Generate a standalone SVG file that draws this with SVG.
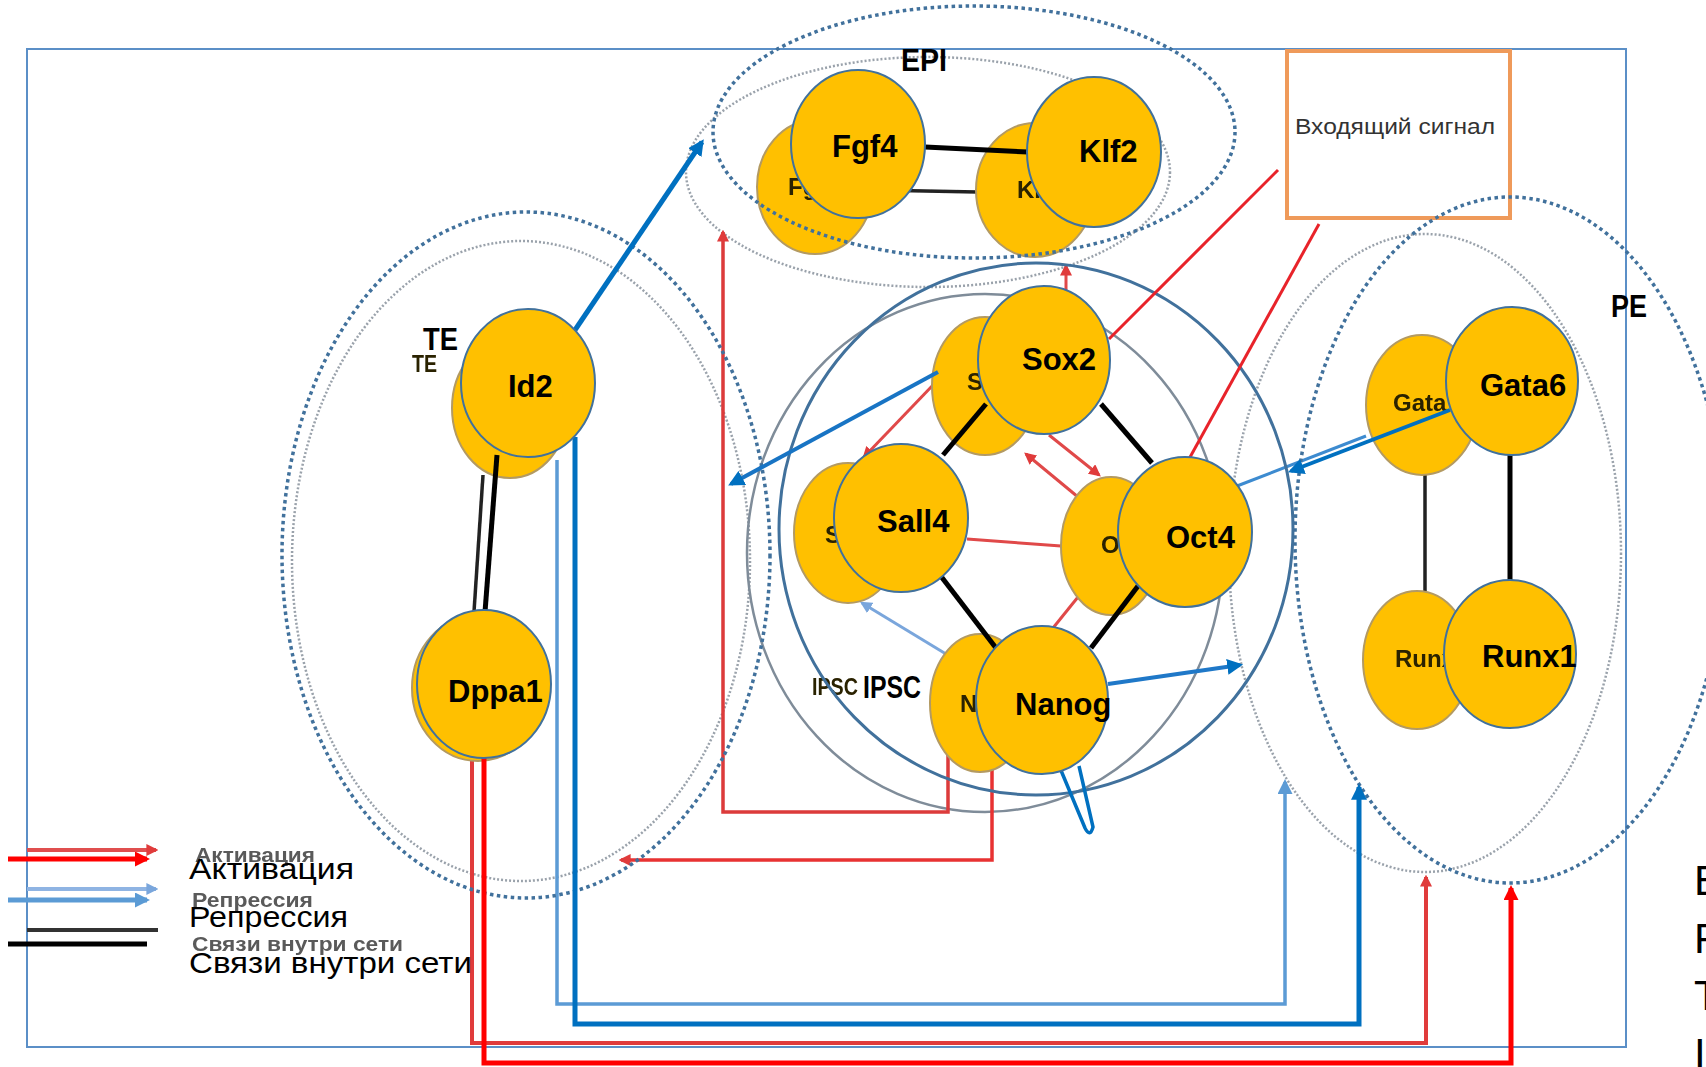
<svg xmlns="http://www.w3.org/2000/svg" width="1706" height="1067" viewBox="0 0 1706 1067">
<style>
.node{fill:#ffc000;stroke:#41719c;stroke-width:2}
.gnode{fill:#ffc000;stroke:#b39a62;stroke-width:2}
.lbl{font-family:"Liberation Sans",Arial,sans-serif;font-weight:bold;font-size:31px;fill:#000}
.glbl{font-family:"Liberation Sans",Arial,sans-serif;font-weight:bold;font-size:24px;fill:#2a2200}
.leg{font-family:"Liberation Sans",Arial,sans-serif;font-size:30px;fill:#000}
.gleg{font-family:"Liberation Sans",Arial,sans-serif;font-weight:bold;font-size:21px;fill:#5a5a5a}
.dotf{fill:none;stroke:#41719c;stroke-width:3.5;stroke-dasharray:3.5 3.5}
.dotg{fill:none;stroke:#9aa2ab;stroke-width:2.5;stroke-dasharray:2 2}
.blk{stroke:#000;stroke-width:5;fill:none}
.gblk{stroke:#222;stroke-width:3.5;fill:none}
</style>
<defs>
<filter id="soft" x="-5%" y="-5%" width="110%" height="110%"><feGaussianBlur stdDeviation="0.7"/></filter>
<marker id="aRed" viewBox="0 0 10 10" refX="8" refY="5" markerWidth="15" markerHeight="15" markerUnits="userSpaceOnUse" orient="auto"><path d="M0,0 L10,5 L0,10 z" fill="#ff0000"/></marker>
<marker id="aRedG" viewBox="0 0 10 10" refX="8" refY="5" markerWidth="12" markerHeight="12" markerUnits="userSpaceOnUse" orient="auto"><path d="M0,0 L10,5 L0,10 z" fill="#e03a3a"/></marker>
<marker id="aBlue" viewBox="0 0 10 10" refX="8" refY="5" markerWidth="16" markerHeight="16" markerUnits="userSpaceOnUse" orient="auto"><path d="M0,0 L10,5 L0,10 z" fill="#0070c0"/></marker>
<marker id="aBlueL" viewBox="0 0 10 10" refX="8" refY="5" markerWidth="15" markerHeight="15" markerUnits="userSpaceOnUse" orient="auto"><path d="M0,0 L10,5 L0,10 z" fill="#5b9bd5"/></marker>
<marker id="aBlueG" viewBox="0 0 10 10" refX="8" refY="5" markerWidth="12" markerHeight="12" markerUnits="userSpaceOnUse" orient="auto"><path d="M0,0 L10,5 L0,10 z" fill="#7aa6dc"/></marker>
</defs>
<rect x="0" y="0" width="1706" height="1067" fill="#fff"/>
<rect id="frame" x="27" y="49" width="1599" height="998" fill="#fff" stroke="#5b8fc7" stroke-width="2"/>

<!-- input signal box -->
<g id="node-input">
<rect x="1287" y="51" width="223" height="167" fill="#fff" stroke="#ef9a5a" stroke-width="4"/>
<text x="1295" y="134" font-family="Liberation Sans, Arial, sans-serif" font-size="22" fill="#333" textLength="200" lengthAdjust="spacingAndGlyphs">Входящий сигнал</text>
</g>

<!-- ghost (background) layer -->
<g id="ghost-layer" filter="url(#soft)">
<g id="ghost-clusters">
<ellipse class="dotg" cx="928" cy="172" rx="242" ry="115"/>
<ellipse class="dotg" cx="521" cy="561" rx="229" ry="320"/>
<ellipse class="dotg" cx="1425" cy="553" rx="196" ry="319"/>
<ellipse cx="985" cy="553" rx="238" ry="259" fill="none" stroke="#7f8c99" stroke-width="2.5"/>
</g>
<g id="ghost-connectors">
<line class="gblk" x1="873" y1="190" x2="977" y2="192"/>
<line class="gblk" x1="483" y1="475" x2="474" y2="612"/>
<line class="gblk" x1="1425" y1="475" x2="1425" y2="591"/>
<line x1="934" y1="384" x2="864" y2="457" stroke="#e04848" stroke-width="3" marker-end="url(#aRedG)"/>
<line x1="1049" y1="435" x2="1099" y2="475" stroke="#e04848" stroke-width="3" marker-end="url(#aRedG)"/>
<line x1="1078" y1="497" x2="1026" y2="454" stroke="#e04848" stroke-width="3" marker-end="url(#aRedG)"/>
<line x1="967" y1="539" x2="1061" y2="546" stroke="#e04848" stroke-width="3"/>
<line x1="1078" y1="597" x2="1053" y2="628" stroke="#e04848" stroke-width="3"/>
<line x1="946" y1="654" x2="862" y2="603" stroke="#7aa6dc" stroke-width="3" marker-end="url(#aBlueG)"/>
<line x1="1066" y1="292" x2="1066" y2="266" stroke="#e04848" stroke-width="3" marker-end="url(#aRedG)"/>
<line x1="1366" y1="436" x2="1237" y2="486" stroke="#3d8bd0" stroke-width="3"/>
<path d="M948,753 V812 H723 V232" fill="none" stroke="#dc3b3b" stroke-width="3.5" marker-end="url(#aRedG)"/>
<path d="M992,767 V860 H621" fill="none" stroke="#e83030" stroke-width="3.5" marker-end="url(#aRedG)"/>
<path d="M557,460 V1004 H1285 V782" fill="none" stroke="#5b9bd5" stroke-width="3.5" marker-end="url(#aBlueL)"/>
<path d="M472,760 V1043 H1426 V877" fill="none" stroke="#e03a3a" stroke-width="4" marker-end="url(#aRedG)"/>
</g>
<g id="ghost-Fgf4"><ellipse class="gnode" cx="815" cy="187" rx="58" ry="67"/><text class="glbl" x="788" y="195">Fg</text></g>
<g id="ghost-Klf2"><ellipse class="gnode" cx="1035" cy="190" rx="59" ry="67"/><text class="glbl" x="1017" y="198">Kl</text></g>
<g id="ghost-Sox2"><ellipse class="gnode" cx="985" cy="386" rx="53" ry="69"/><text class="glbl" x="967" y="390">S</text></g>
<g id="ghost-Sall4"><ellipse class="gnode" cx="848" cy="533" rx="54" ry="70"/><text class="glbl" x="825" y="543">S</text></g>
<g id="ghost-Oct4"><ellipse class="gnode" cx="1111" cy="546" rx="50" ry="69"/><text class="glbl" x="1101" y="553">O</text></g>
<g id="ghost-Nanog"><ellipse class="gnode" cx="980" cy="703" rx="50" ry="69"/><text class="glbl" x="960" y="712">N</text></g>
<g id="ghost-Id2"><ellipse class="gnode" cx="510" cy="408" rx="58" ry="70"/></g>
<g id="ghost-Dppa1"><ellipse class="gnode" cx="478" cy="688" rx="66" ry="73"/></g>
<g id="ghost-Gata6"><ellipse class="gnode" cx="1422" cy="405" rx="56" ry="70"/><text class="glbl" x="1393" y="411" font-size="22">Gata</text></g>
<g id="ghost-Runx1"><ellipse class="gnode" cx="1417" cy="660" rx="54" ry="69"/><text class="glbl" x="1395" y="667" font-size="22">Runx</text></g>
<text class="glbl" x="412" y="372" font-size="23" textLength="25" lengthAdjust="spacingAndGlyphs">TE</text>
<text class="glbl" x="812" y="695" font-size="22" textLength="46" lengthAdjust="spacingAndGlyphs">IPSC</text>
<g id="ghost-legend">
<line x1="27" y1="850" x2="156" y2="850" stroke="#e05050" stroke-width="4" marker-end="url(#aRedG)"/>
<line x1="27" y1="889" x2="156" y2="889" stroke="#8fb4e3" stroke-width="4" marker-end="url(#aBlueG)"/>
<line x1="27" y1="930" x2="158" y2="930" stroke="#333" stroke-width="4"/>
<text class="gleg" x="195" y="862" textLength="120" lengthAdjust="spacingAndGlyphs">Активация</text>
<text class="gleg" x="192" y="907" textLength="121" lengthAdjust="spacingAndGlyphs">Репрессия</text>
<text class="gleg" x="192" y="951" textLength="211" lengthAdjust="spacingAndGlyphs">Связи внутри сети</text>
</g>
</g>

<!-- front cluster outlines -->
<g id="clusters">
<ellipse id="cluster-EPI" class="dotf" cx="974" cy="132" rx="261" ry="126"/>
<ellipse id="cluster-TE" class="dotf" cx="526" cy="555" rx="244" ry="343"/>
<ellipse id="cluster-PE" class="dotf" cx="1510" cy="540" rx="215" ry="343"/>
<ellipse id="cluster-IPSC" cx="1036" cy="529" rx="257" ry="266" fill="none" stroke="#41719c" stroke-width="3"/>
</g>

<!-- connectors -->
<g id="connectors">
<line x1="575" y1="330" x2="702" y2="142" stroke="#0070c0" stroke-width="5" marker-end="url(#aBlue)"/>
<path d="M575,437 V1024 H1359 V787" fill="none" stroke="#0070c0" stroke-width="5" marker-end="url(#aBlue)"/>
<path d="M484,758 V1063 H1511 V888" fill="none" stroke="#ff0000" stroke-width="5" marker-end="url(#aRed)"/>
<line x1="938" y1="372" x2="731" y2="484" stroke="#1874c4" stroke-width="4" marker-end="url(#aBlue)"/>
<line x1="1450" y1="410" x2="1291" y2="471" stroke="#0070c0" stroke-width="4" marker-end="url(#aBlue)"/>
<line x1="1108" y1="684" x2="1240" y2="665" stroke="#1f78c8" stroke-width="4" marker-end="url(#aBlue)"/>
<line x1="1278" y1="170" x2="1109" y2="339" stroke="#e8232a" stroke-width="3"/>
<line x1="1319" y1="224" x2="1189" y2="459" stroke="#e8232a" stroke-width="3"/>
<path d="M1060,768 L1085,828 Q1090,838 1093,827 L1079,766" fill="none" stroke="#0070c0" stroke-width="3.5"/>
<line class="blk" x1="925" y1="147" x2="1028" y2="152"/>
<line class="blk" x1="986" y1="404" x2="943" y2="455"/>
<line class="blk" x1="1101" y1="404" x2="1152" y2="463"/>
<line class="blk" x1="940" y1="575" x2="996" y2="648"/>
<line class="blk" x1="1138" y1="586" x2="1091" y2="648"/>
<line class="blk" x1="497" y1="455" x2="485" y2="612"/>
<line class="blk" x1="1510" y1="455" x2="1510" y2="582"/>
</g>

<!-- front nodes -->
<g id="node-Fgf4"><ellipse class="node" cx="858" cy="144" rx="67" ry="74"/><text class="lbl" x="832" y="157">Fgf4</text></g>
<g id="node-Klf2"><ellipse class="node" cx="1094" cy="152" rx="67" ry="75"/><text class="lbl" x="1079" y="162">Klf2</text></g>
<g id="node-Sox2"><ellipse class="node" cx="1044" cy="360" rx="66" ry="74"/><text class="lbl" x="1022" y="370">Sox2</text></g>
<g id="node-Sall4"><ellipse class="node" cx="901" cy="518" rx="67" ry="74"/><text class="lbl" x="877" y="532">Sall4</text></g>
<g id="node-Oct4"><ellipse class="node" cx="1185" cy="532" rx="67" ry="75"/><text class="lbl" x="1166" y="548">Oct4</text></g>
<g id="node-Nanog"><ellipse class="node" cx="1042" cy="700" rx="66" ry="74"/><text class="lbl" x="1015" y="715">Nanog</text></g>
<g id="node-Id2"><ellipse class="node" cx="528" cy="383" rx="67" ry="74"/><text class="lbl" x="508" y="397">Id2</text></g>
<g id="node-Dppa1"><ellipse class="node" cx="484" cy="684" rx="67" ry="74"/><text class="lbl" x="448" y="702">Dppa1</text></g>
<g id="node-Gata6"><ellipse class="node" cx="1512" cy="381" rx="66" ry="74"/><text class="lbl" x="1480" y="396">Gata6</text></g>
<g id="node-Runx1"><ellipse class="node" cx="1510" cy="654" rx="66" ry="74"/><text class="lbl" x="1482" y="667">Runx1</text></g>

<!-- cluster labels -->
<g id="labels">
<text class="lbl" x="901" y="71" textLength="46" lengthAdjust="spacingAndGlyphs">EPI</text>
<text class="lbl" x="1611" y="317" font-size="29" textLength="36" lengthAdjust="spacingAndGlyphs">PE</text>
<text class="lbl" x="423" y="350" font-size="30" textLength="35" lengthAdjust="spacingAndGlyphs">TE</text>
<text class="lbl" x="863" y="698" textLength="58" lengthAdjust="spacingAndGlyphs">IPSC</text>
</g>

<!-- legend -->
<g id="legend">
<line x1="8" y1="859" x2="147" y2="859" stroke="#ff0000" stroke-width="5" marker-end="url(#aRed)"/>
<line x1="8" y1="900" x2="147" y2="900" stroke="#5b9bd5" stroke-width="5" marker-end="url(#aBlueL)"/>
<line x1="8" y1="944" x2="147" y2="944" stroke="#000" stroke-width="5"/>
<text class="leg" x="189" y="879" textLength="165" lengthAdjust="spacingAndGlyphs">Активация</text>
<text class="leg" x="189" y="927" textLength="159" lengthAdjust="spacingAndGlyphs">Репрессия</text>
<text class="leg" x="189" y="973" textLength="283" lengthAdjust="spacingAndGlyphs">Связи внутри сети</text>
</g>

<!-- right-edge list (cut off) -->
<g id="edge-list" font-family="Liberation Sans, Arial, sans-serif" font-size="42" fill="#000">
<text x="1694" y="895">E</text>
<text x="1694" y="953">P</text>
<text x="1694" y="1010">T</text>
<text x="1694" y="1068">I</text>
</g>
</svg>
